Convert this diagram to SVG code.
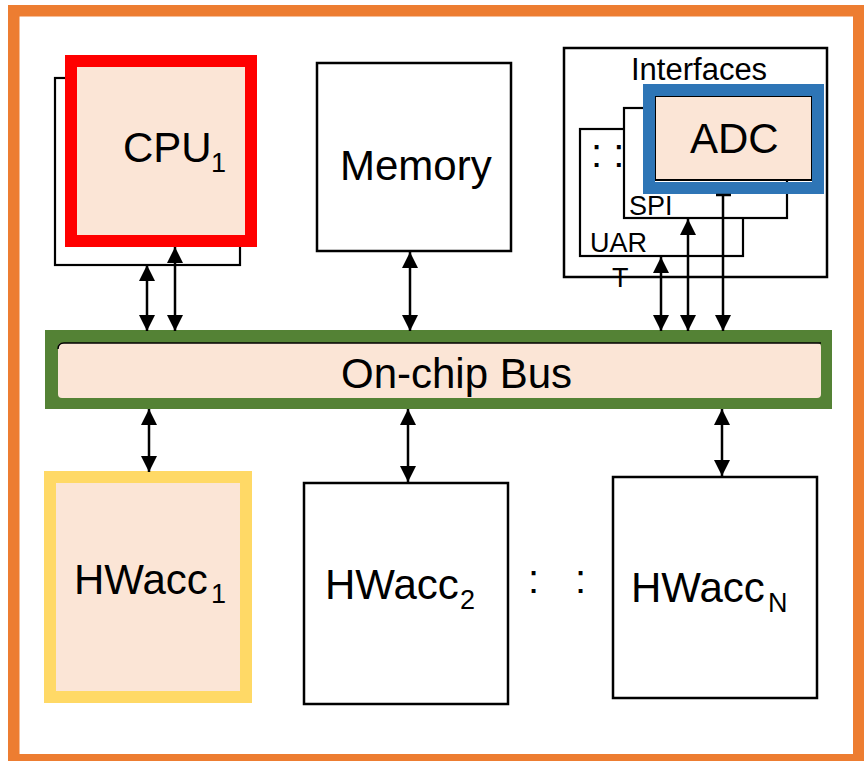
<svg xmlns="http://www.w3.org/2000/svg" width="864" height="761" viewBox="0 0 864 761">
<defs>
<style>
.t{font-family:"Liberation Sans",Arial,sans-serif;fill:#000}
.big{font-size:42px}
.sub{font-size:27px}
.sm{font-size:27px}
.box{fill:#fff;stroke:#000;stroke-width:2.5}
.thin{fill:#fff;stroke:#000;stroke-width:2.2}
.peach{fill:#FBE5D6}
.conn line{stroke:#000;stroke-width:2.5}
</style>
<marker id="ah" markerUnits="userSpaceOnUse" markerWidth="16" markerHeight="16" refX="16" refY="8" orient="auto-start-reverse" viewBox="0 0 16 16">
<path d="M0,0 L16,8 L0,16 z" fill="#000"/>
</marker>
</defs>
<rect x="0" y="0" width="864" height="761" fill="#fff"/>
<g id="frame">
<rect x="13.75" y="10.75" width="845" height="749" fill="none" stroke="#ED7D31" stroke-width="11.5"/>
</g>
<g id="cpu">
<rect class="thin" x="55" y="78" width="185" height="187"/>
<rect x="71" y="61" width="180" height="180" fill="#FBE5D6" stroke="#FF0000" stroke-width="12"/>
<text class="t big" x="123" y="162">CPU</text>
<text class="t sub" x="211" y="172">1</text>
</g>
<g id="memory">
<rect class="box" x="317" y="63" width="194" height="188"/>
<text class="t big" x="340" y="180">Memory</text>
</g>
<g id="interfaces">
<rect class="box" x="564" y="48" width="263" height="229"/>
<text class="t" font-size="31" x="631" y="80">Interfaces</text>
<rect class="thin" x="580" y="129" width="163" height="127"/>
<text class="t" font-size="40" x="591" y="167">: :</text>
<text class="t sm" x="590" y="252">UAR</text>
<text class="t sm" x="612" y="287">T</text>
<rect class="thin" x="624" y="108" width="163" height="110"/>
<text class="t sm" x="629" y="215">SPI</text>
</g>
<g id="adc">
<rect x="655" y="96" width="157" height="84" fill="#FBE5D6" stroke="#000" stroke-width="2"/>
<rect x="649" y="90" width="169" height="98" fill="none" stroke="#2E75B6" stroke-width="12"/>
<text class="t big" x="690" y="153">ADC</text>
</g>
<g id="bus">
<rect x="51" y="336" width="775" height="67" fill="#548235" stroke="#548235" stroke-width="12"/>
<rect class="peach" x="58" y="343" width="763" height="55" rx="4"/>
<path d="M58,349 Q58,343 64,343 L821,343" fill="none" stroke="#000" stroke-width="1.5"/>
<text class="t big" x="341" y="388">On-chip Bus</text>
</g>
<g id="hwacc1">
<rect x="50" y="477" width="196" height="220" fill="#FBE5D6" stroke="#FFD966" stroke-width="12"/>
<text class="t big" x="74" y="594">HWacc</text>
<text class="t sub" x="211" y="603">1</text>
</g>
<g id="hwacc2">
<rect class="box" x="304" y="483" width="204" height="221"/>
<text class="t big" x="325" y="599">HWacc</text>
<text class="t sub" x="460" y="609">2</text>
</g>
<g id="dots">
<text class="t" font-size="40" x="528" y="593">:</text>
<text class="t" font-size="40" x="575" y="593">:</text>
</g>
<g id="hwaccN">
<rect class="box" x="613" y="477" width="204" height="221"/>
<text class="t big" x="631" y="602">HWacc</text>
<text class="t sub" x="768" y="612">N</text>
</g>
<g id="connectors" class="conn">
<line x1="147" y1="265" x2="147" y2="331" marker-start="url(#ah)" marker-end="url(#ah)"/>
<line x1="175" y1="247" x2="175" y2="331" marker-start="url(#ah)" marker-end="url(#ah)"/>
<line x1="410" y1="252" x2="410" y2="331" marker-start="url(#ah)" marker-end="url(#ah)"/>
<line x1="661" y1="257" x2="661" y2="331" marker-start="url(#ah)" marker-end="url(#ah)"/>
<line x1="688" y1="219" x2="688" y2="331" marker-start="url(#ah)" marker-end="url(#ah)"/>
<line x1="723" y1="194" x2="723" y2="331" marker-end="url(#ah)"/>
<line x1="716" y1="195" x2="731" y2="195"/>
<line x1="149" y1="409" x2="149" y2="472" marker-start="url(#ah)" marker-end="url(#ah)"/>
<line x1="408" y1="409" x2="408" y2="482" marker-start="url(#ah)" marker-end="url(#ah)"/>
<line x1="722" y1="409" x2="722" y2="476" marker-start="url(#ah)" marker-end="url(#ah)"/>
</g>
</svg>
